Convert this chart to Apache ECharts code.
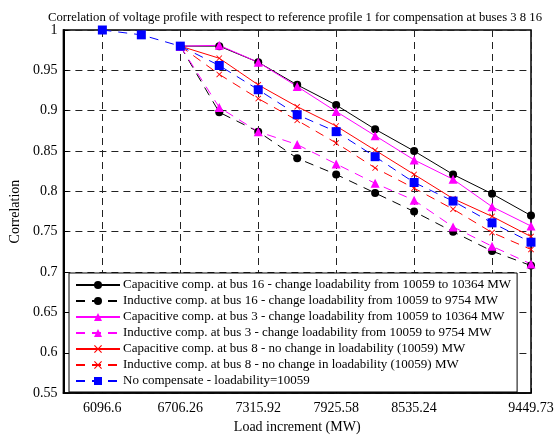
<!DOCTYPE html>
<html>
<head>
<meta charset="utf-8">
<script src="https://cdn.jsdelivr.net/npm/echarts@6/dist/echarts.min.js"></script>
<style>
  html, body { margin: 0; padding: 0; background: #fff; }
  #main { width: 557px; height: 439px; }
</style>
</head>
<body>
<div id="main"></div>
<script>
// load steps (MW)
const loadX = [6096.6, 6401.43, 6706.26, 7011.09, 7315.92, 7620.75, 7925.58, 8230.41, 8535.24, 8840.07, 9144.9, 9449.73]
const tickX = [6096.6, 6706.26, 7315.92, 7925.58, 8535.24, 9144.9, 9449.73]
const labelX = [6096.6, 6706.26, 7315.92, 7925.58, 8535.24, 9449.73]

// compensated cases start at 6706.26
const cap16 = [0.980, 0.980, 0.960, 0.932, 0.907, 0.877, 0.850, 0.821, 0.797, 0.770]
const ind16 = [0.980, 0.898, 0.874, 0.841, 0.821, 0.798, 0.775, 0.750, 0.726, 0.708]
const cap3 = [0.980, 0.981, 0.960, 0.930, 0.899, 0.869, 0.839, 0.815, 0.781, 0.757]
const ind3 = [0.980, 0.904, 0.874, 0.858, 0.834, 0.810, 0.789, 0.756, 0.732, 0.710]
const cap8 = [0.980, 0.965, 0.932, 0.905, 0.881, 0.851, 0.821, 0.791, 0.769, 0.744]
const ind8 = [0.980, 0.945, 0.915, 0.888, 0.860, 0.829, 0.804, 0.778, 0.749, 0.728]
const noComp = [1.000, 0.994, 0.980, 0.956, 0.926, 0.895, 0.874, 0.843, 0.811, 0.788, 0.761, 0.737]

const serif = '"Liberation Serif", "DejaVu Serif", serif'
const crossPath = 'path://M0,1L1,0L5,4L9,0L10,1L6,5L10,9L9,10L5,6L1,10L0,9L4,5Z'

function pairs(vals) {
   const off = loadX.length - vals.length
   return vals.map((v, i) => [loadX[i + off], v])
}

function mk(name, vals, color, symbol, size, dashed) {
   return {
      name: name,
      type: 'line',
      data: pairs(vals),
      symbol: symbol,
      symbolSize: size,
      showSymbol: true,
      animation: false,
      itemStyle: { color: color },
      lineStyle: { color: color, width: 1, type: dashed ? [9, 7] : 'solid' }
   }
}

let myChart = echarts.init(document.getElementById('main'))

myChart.setOption({
   backgroundColor: '#fff',
   title: {
      text: 'Correlation of voltage profile with respect to reference profile 1 for compensation at buses 3 8 16',
      left: 290,
      textAlign: 'center',
      top: 6,
      textStyle: { fontFamily: serif, fontSize: 12.7, fontWeight: 'normal', color: '#000' }
   },
   grid: {
      left: 63, right: 26, top: 30, bottom: 41,
      show: true, borderColor: '#000', borderWidth: 1.5
   },
   legend: {
      orient: 'vertical',
      left: 69, top: 273,
      itemWidth: 44, itemHeight: 10,
      itemGap: 2,
      padding: [5, 6, 4, 6],
      backgroundColor: '#fff',
      borderColor: '#000',
      borderWidth: 1,
      borderRadius: 0,
      textStyle: { fontFamily: serif, fontSize: 13, lineHeight: 14, color: '#000', padding: [0, 0, 0, -2] },
      data: [
         'Capacitive comp. at bus 16 - change loadability from 10059 to 10364 MW',
         'Inductive comp. at bus 16 - change loadability from 10059 to 9754 MW',
         'Capacitive comp. at bus 3 - change loadability from 10059 to 10364 MW',
         'Inductive comp. at bus 3 - change loadability from 10059 to 9754 MW',
         'Capacitive comp. at bus 8 - no change in loadability (10059) MW',
         'Inductive comp. at bus 8 - no change in loadability (10059) MW',
         'No compensate - loadability=10059'
      ]
   },
   xAxis: {
      type: 'value',
      min: 5791.77,
      max: 9449.73,
      name: 'Load increment (MW)',
      nameLocation: 'middle',
      nameGap: 26,
      nameTextStyle: { fontFamily: serif, fontSize: 14, color: '#000' },
      axisLine: { lineStyle: { color: '#000', width: 1.5 } },
      axisTick: { inside: true, length: 5, customValues: tickX, lineStyle: { color: '#000' } },
      axisLabel: {
         customValues: labelX,
         fontFamily: serif, fontSize: 14, color: '#000', margin: 8,
         formatter: v => String(v)
      },
      splitLine: { show: true, lineStyle: { color: '#222', type: [7, 5], width: 1 } }
   },
   yAxis: {
      type: 'value',
      min: 0.55,
      max: 1,
      interval: 0.05,
      name: 'Correlation',
      nameLocation: 'middle',
      nameGap: 40,
      nameTextStyle: { fontFamily: serif, fontSize: 14, color: '#000' },
      axisLine: { show: true, lineStyle: { color: '#000', width: 2 } },
      axisTick: { inside: true, length: 5, lineStyle: { color: '#000' } },
      axisLabel: { fontFamily: serif, fontSize: 14, color: '#000', margin: 6 },
      splitLine: { show: true, lineStyle: { color: '#222', type: [7, 5], width: 1 } }
   },
   series: [
      mk('Capacitive comp. at bus 16 - change loadability from 10059 to 10364 MW', cap16, '#000', 'circle', 8, false),
      mk('Inductive comp. at bus 16 - change loadability from 10059 to 9754 MW', ind16, '#000', 'circle', 8, true),
      mk('Capacitive comp. at bus 3 - change loadability from 10059 to 10364 MW', cap3, '#ff00ff', 'triangle', 9, false),
      mk('Inductive comp. at bus 3 - change loadability from 10059 to 9754 MW', ind3, '#ff00ff', 'triangle', 9, true),
      mk('Capacitive comp. at bus 8 - no change in loadability (10059) MW', cap8, '#ff0000', crossPath, 6, false),
      mk('Inductive comp. at bus 8 - no change in loadability (10059) MW', ind8, '#ff0000', crossPath, 6, true),
      mk('No compensate - loadability=10059', noComp, '#0000ff', 'rect', 9, true)
   ]
})
</script>
</body>
</html>
